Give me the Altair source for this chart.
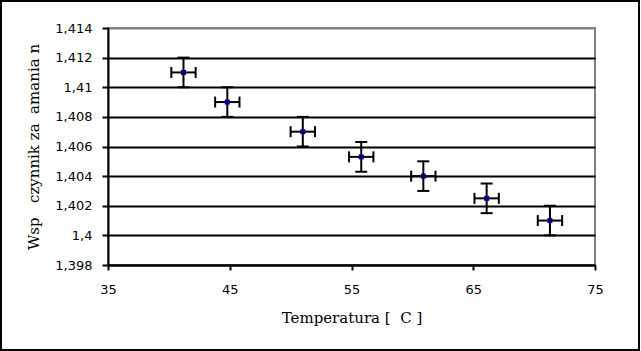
import altair as alt
import pandas as pd

# Data
temp = [41.2, 44.8, 51.0, 55.8, 60.9, 66.1, 71.3]
n_val = [1.4110, 1.4090, 1.4070, 1.4053, 1.4040, 1.4025, 1.4010]
temp_err = [1.0, 1.0, 1.0, 1.0, 1.0, 1.0, 1.0]
n_err = [0.001, 0.001, 0.001, 0.001, 0.001, 0.001, 0.001]

x_ticks = [35, 45, 55, 65, 75]
y_ticks = [1.398, 1.400, 1.402, 1.404, 1.406, 1.408, 1.410, 1.412, 1.414]

df = pd.DataFrame({"t": temp, "n": n_val, "te": temp_err, "ne": n_err})
df["t_lo"] = df["t"] - df["te"]
df["t_hi"] = df["t"] + df["te"]
df["n_lo"] = df["n"] - df["ne"]
df["n_hi"] = df["n"] + df["ne"]

x_title = "Temperatura [\u00a0\u00a0C ]"
y_title = "Wsp\u00a0\u00a0\u00a0czynnik za\u00a0\u00a0amania n"

xscale = alt.Scale(domain=[35, 75], nice=False, zero=False)
yscale = alt.Scale(domain=[1.398, 1.414], nice=False, zero=False)

xaxis = alt.Axis(
    values=x_ticks, tickCount=20, title=x_title, grid=False, labelOverlap=False,
    domainColor="black", domainWidth=2, tickColor="black", tickWidth=2, tickSize=5,
    labelFont="DejaVu Sans", labelFontSize=13, labelColor="black", labelPadding=13,
    titleFont="DejaVu Serif", titleFontSize=15, titleFontWeight="normal",
    titleColor="black", titlePadding=14, labelFlush=False,
)
yaxis = alt.Axis(
    values=y_ticks, tickCount=20, title=y_title, labelOverlap=False,
    labelExpr="replace(format(datum.value, '.3~f'), '.', ',')",
    grid=True, gridWidth=2,
    gridColor=alt.condition("datum.value > 1.4135", alt.value("#808080"), alt.value("black")),
    domainColor="black", domainWidth=2, tickColor="black", tickWidth=2, tickSize=6,
    labelFont="DejaVu Sans", labelFontSize=13, labelColor="black", labelPadding=10,
    titleFont="DejaVu Serif", titleFontSize=15, titleFontWeight="normal",
    titleColor="black", titlePadding=13,
)

base = alt.Chart(df)

xbar = base.mark_rule(color="black", strokeWidth=2).encode(
    x=alt.X("t_lo:Q", scale=xscale, axis=xaxis), x2="t_hi:Q",
    y=alt.Y("n:Q", scale=yscale, axis=yaxis),
)
ybar = base.mark_rule(color="black", strokeWidth=2).encode(
    x=alt.X("t:Q", scale=xscale), y=alt.Y("n_lo:Q", scale=yscale), y2="n_hi:Q",
)
xcap_lo = base.mark_tick(color="black", orient="vertical", thickness=2, size=11, opacity=1).encode(
    x=alt.X("t_lo:Q", scale=xscale), y=alt.Y("n:Q", scale=yscale),
)
xcap_hi = base.mark_tick(color="black", orient="vertical", thickness=2, size=11, opacity=1).encode(
    x=alt.X("t_hi:Q", scale=xscale), y=alt.Y("n:Q", scale=yscale),
)
ycap_lo = base.mark_tick(color="black", orient="horizontal", thickness=2, size=12, opacity=1).encode(
    x=alt.X("t:Q", scale=xscale), y=alt.Y("n_lo:Q", scale=yscale),
)
ycap_hi = base.mark_tick(color="black", orient="horizontal", thickness=2, size=12, opacity=1).encode(
    x=alt.X("t:Q", scale=xscale), y=alt.Y("n_hi:Q", scale=yscale),
)
points = base.mark_square(color="#000080", size=25, opacity=1).encode(
    x=alt.X("t:Q", scale=xscale), y=alt.Y("n:Q", scale=yscale),
)

frame = alt.Chart(alt.Data(values=[{"a": 1}])).mark_rect(
    fill="transparent", stroke="black", strokeWidth=2
).encode(
    x=alt.value(-107), x2=alt.value(531), y=alt.value(-27), y2=alt.value(322)
)

chart = alt.layer(
    xbar, ybar, xcap_lo, xcap_hi, ycap_lo, ycap_hi, points, frame
).properties(
    width=487, height=237,
    autosize=alt.AutoSizeParams(type="none"),
    padding={"left": 108, "top": 28, "right": 46, "bottom": 86},
    background="white",
).configure_view(
    stroke="#808080", strokeWidth=2
)

chart.save("out.html", embed_options={"renderer": "svg", "actions": False})
